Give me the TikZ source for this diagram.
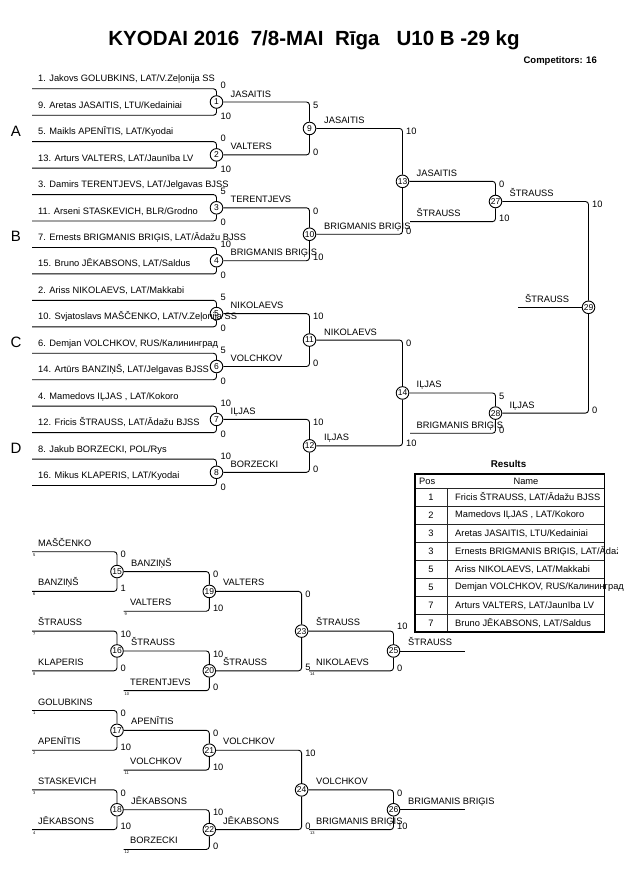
\documentclass[tikz,border=0pt]{standalone}
\usepackage{fontspec}
\setmainfont{Liberation Sans}
\newcommand\smallfs{\fontsize{9.3}{11}\selectfont}
\tikzset{
  ln/.style={line width=0.9pt, rounded corners=3pt},
  circ/.style={circle, draw, fill=white, line width=0.9pt, minimum size=12.6pt, inner sep=0pt, font=\fontsize{8.5}{9}\selectfont},
  lbl/.style={anchor=base west, inner sep=0pt, font=\smallfs},
  score/.style={anchor=west, inner sep=0pt, font=\smallfs},
  tinyn/.style={anchor=north west, inner sep=0pt, font=\fontsize{4}{4}\selectfont},
  pool/.style={anchor=center, inner sep=0pt, font=\fontsize{15}{16}\selectfont},
  cell/.style={inner sep=0pt, font=\smallfs},
  grid/.style={line width=0.9pt, draw=black!85},
}
% first round of the main bracket: id, cy, top text, bottom text, top score, bottom score, winner
\newcommand\FirstMatch[7]{%
  \node[circ] (m#1) at (216.5,#2) {#1};
  \coordinate (s#1t) at (32,#2-13.225);
  \coordinate (s#1b) at (32,#2+13.225);
  \draw[ln] (s#1t) -| (m#1.north);
  \draw[ln] (s#1b) -| (m#1.south);
  \node[lbl] (l#1t) at (38,#2-13.225-7) {#3};
  \node[lbl] (l#1b) at (38,#2+13.225-7) {#4};
  \node[score] (sc#1t) at (220.5,#2-13.225-3) {#5};
  \node[score] (sc#1b) at (220.5,#2+13.225+1.5) {#6};
  \node[lbl] (w#1) at (230.5,#2-5) {#7};
}
% later match: id, cx, cy, top source, bottom source, top score, bottom score, top y, bottom y
\newcommand\Match[9]{%
  \node[circ] (m#1) at (#2,#3) {#1};
  \draw[ln] (#4) -| (m#1.north);
  \draw[ln] (#5) -| (m#1.south);
  \node[score] (sc#1t) at (#2+3.5,#8+3) {#6};
  \node[score] (sc#1b) at (#2+3.5,#9-3) {#7};
}
% first round of the repechage: id, cy, top text, bottom text, top tiny, bottom tiny, top score, bottom score, winner
\newcommand\RepFirst[9]{%
  \node[circ] (m#1) at (117,#2) {#1};
  \coordinate (s#1t) at (32,#2-19.85);
  \coordinate (s#1b) at (32,#2+19.85);
  \draw[ln] (s#1t) -| (m#1.north);
  \draw[ln] (s#1b) -| (m#1.south);
  \node[lbl] (l#1t) at (38,#2-19.85-5.5) {#3};
  \node[lbl] (l#1b) at (38,#2+19.85-5.5) {#4};
  \node[tinyn] (t#1t) at (33,#2-19.85+1.5) {#5};
  \node[tinyn] (t#1b) at (33,#2+19.85+1.5) {#6};
  \node[score] (sc#1t) at (120.5,#2-19.85+3) {#7};
  \node[score] (sc#1b) at (120.5,#2+19.85-3) {#8};
  \node[lbl] (w#1) at (131,#2-5.5) {#9};
}
\begin{document}
\begin{tikzpicture}[x=1pt,y=-1pt]
\useasboundingbox (0,0) rectangle (630,891);
\fill[white] (0,0) rectangle (630,891);

\node[anchor=base, inner sep=0pt, font=\bfseries\fontsize{20.5}{24}\selectfont] (title) at (314,45.3) {KYODAI 2016\ \ 7/8-MAI\ \ Rīga\ \ \ U10 B -29 kg};
\node[anchor=base east, inner sep=0pt, font=\bfseries\fontsize{9.5}{11}\selectfont] (comp) at (597,63.5) {Competitors: 16};

% pool letters
\node[pool] (pA) at (16,131) {A};
\node[pool] (pB) at (16,236.8) {B};
\node[pool] (pC) at (16,342.6) {C};
\node[pool] (pD) at (16,448.4) {D};

% ---------------- main bracket, round 1
\FirstMatch{1}{102}{1. Jakovs GOLUBKINS, LAT/V.Zeļonija SS}{9. Aretas JASAITIS, LTU/Kedainiai}{0}{10}{JASAITIS}
\FirstMatch{2}{154.9}{5. Maikls APENĪTIS, LAT/Kyodai}{13. Arturs VALTERS, LAT/Jaunība LV}{0}{10}{VALTERS}
\FirstMatch{3}{207.8}{3. Damirs TERENTJEVS, LAT/Jelgavas BJSS}{11. Arseni STASKEVICH, BLR/Grodno}{5}{0}{TERENTJEVS}
\FirstMatch{4}{260.7}{7. Ernests BRIGMANIS BRIĢIS, LAT/Ādažu BJSS}{15. Bruno JĒKABSONS, LAT/Saldus}{10}{0}{BRIGMANIS BRIĢIS}
\FirstMatch{5}{313.6}{2. Ariss NIKOLAEVS, LAT/Makkabi}{10. Svjatoslavs MAŠČENKO, LAT/V.Zeļonija SS}{5}{0}{NIKOLAEVS}
\FirstMatch{6}{366.5}{6. Demjan VOLCHKOV, RUS/Калининград}{14. Artūrs BANZIŅŠ, LAT/Jelgavas BJSS}{5}{0}{VOLCHKOV}
\FirstMatch{7}{419.4}{4. Mamedovs IĻJAS , LAT/Kokoro}{12. Fricis ŠTRAUSS, LAT/Ādažu BJSS}{10}{0}{IĻJAS}
\FirstMatch{8}{472.3}{8. Jakub BORZECKI, POL/Rys}{16. Mikus KLAPERIS, LAT/Kyodai}{10}{0}{BORZECKI}

% round 2
\Match{9}{309.5}{128.45}{m1.east}{m2.east}{5}{0}{102}{154.9}
\Match{10}{309.5}{234.25}{m3.east}{m4.east}{0}{10}{207.8}{260.7}
\Match{11}{309.5}{340.05}{m5.east}{m6.east}{10}{0}{313.6}{366.5}
\Match{12}{309.5}{445.85}{m7.east}{m8.east}{10}{0}{419.4}{472.3}
\node[lbl] (w9) at (324,123.45) {JASAITIS};
\node[lbl] (w10) at (324,229.25) {BRIGMANIS BRIĢIS};
\node[lbl] (w11) at (324,335.05) {NIKOLAEVS};
\node[lbl] (w12) at (324,440.85) {IĻJAS};

% round 3
\Match{13}{402.5}{181.35}{m9.east}{m10.east}{10}{0}{128.45}{234.25}
\Match{14}{402.5}{392.95}{m11.east}{m12.east}{0}{10}{340.05}{445.85}
\node[lbl] (w13) at (416.5,176.35) {JASAITIS};
\node[lbl] (w14) at (416.5,387.95) {IĻJAS};

% semifinals
\coordinate (f27) at (410,221.65);
\coordinate (f28) at (410,433.25);
\Match{27}{495.5}{201.5}{m13.east}{f27}{0}{10}{181.35}{221.65}
\Match{28}{495.5}{413.1}{m14.east}{f28}{5}{0}{392.95}{433.25}
\node[lbl] (i27) at (416.5,216.65) {ŠTRAUSS};
\node[lbl] (i28) at (416.5,428.25) {BRIGMANIS BRIĢIS};
\node[lbl] (w27) at (509.5,196.5) {ŠTRAUSS};
\node[lbl] (w28) at (509.5,408.1) {IĻJAS};

% final
\Match{29}{588.5}{307.3}{m27.east}{m28.east}{10}{0}{201.5}{413.1}
\coordinate (f29) at (518,307.3);
\draw[ln] (f29) -- (m29.west);
\node[lbl] (i29) at (525,302.3) {ŠTRAUSS};

% ---------------- results table
\node[inner sep=0pt, font=\bfseries\fontsize{9.8}{11}\selectfont] (restitle) at (508.5,463.5) {Results};
\draw[grid] (447,488) -- (447,632);
\foreach \k in {0,...,7} {\draw[grid] (415,488+18*\k) -- (604.5,488+18*\k);}
\draw[line width=1.6pt] (415,474) rectangle (604.5,632);
\node[cell, anchor=west] (hpos) at (419,481.5) {Pos};
\node[cell] (hname) at (526,481.5) {Name};
\node[cell] (q1) at (431,497.5) {1};
\node[cell] (q2) at (431,515.5) {2};
\node[cell] (q3) at (431,533.5) {3};
\node[cell] (q4) at (431,551.5) {3};
\node[cell] (q5) at (431,569.5) {5};
\node[cell] (q6) at (431,587.5) {5};
\node[cell] (q7) at (431,605.5) {7};
\node[cell] (q8) at (431,623.5) {7};
\node[cell, anchor=west] (r1) at (455,497.5) {Fricis ŠTRAUSS, LAT/Ādažu BJSS};
\node[cell, anchor=west] (r2) at (455,515.5) {Mamedovs IĻJAS , LAT/Kokoro};
\node[cell, anchor=west] (r3) at (455,533.5) {Aretas JASAITIS, LTU/Kedainiai};
\begin{scope}
\clip (448,543) rectangle (617,560);
\node[cell, anchor=west] (r4) at (455,551.5) {Ernests BRIGMANIS BRIĢIS, LAT/Ādažu BJSS};
\end{scope}
\node[cell, anchor=west] (r5) at (455,569.5) {Ariss NIKOLAEVS, LAT/Makkabi};
\node[cell, anchor=west] (r6) at (455,587.5) {Demjan VOLCHKOV, RUS/Калининград};
\node[cell, anchor=west] (r7) at (455,605.5) {Arturs VALTERS, LAT/Jaunība LV};
\node[cell, anchor=west] (r8) at (455,623.5) {Bruno JĒKABSONS, LAT/Saldus};

% ---------------- repechage
% rows r_k = 551.7 + 19.85 k
\RepFirst{15}{571.55}{MAŠČENKO}{BANZIŅŠ}{5}{6}{0}{1}{BANZIŅŠ}
\RepFirst{16}{650.95}{ŠTRAUSS}{KLAPERIS}{7}{8}{10}{0}{ŠTRAUSS}
\RepFirst{17}{730.35}{GOLUBKINS}{APENĪTIS}{1}{2}{0}{10}{APENĪTIS}
\RepFirst{18}{809.75}{STASKEVICH}{JĒKABSONS}{3}{4}{0}{10}{JĒKABSONS}

\coordinate (f19) at (123.5,611.25);
\coordinate (f20) at (123.5,690.65);
\coordinate (f21) at (123.5,770.05);
\coordinate (f22) at (123.5,849.45);
\Match{19}{209.3}{591.4}{m15.east}{f19}{0}{10}{571.55}{611.25}
\Match{20}{209.3}{670.8}{m16.east}{f20}{10}{0}{650.95}{690.65}
\Match{21}{209.3}{750.2}{m17.east}{f21}{0}{10}{730.35}{770.05}
\Match{22}{209.3}{829.6}{m18.east}{f22}{10}{0}{809.75}{849.45}
\node[lbl] (i19) at (130,605.75) {VALTERS};
\node[lbl] (i20) at (130,685.15) {TERENTJEVS};
\node[lbl] (i21) at (130,764.55) {VOLCHKOV};
\node[lbl] (i22) at (130,843.95) {BORZECKI};
\node[tinyn] (t19) at (124.5,612.75) {9};
\node[tinyn] (t20) at (124.5,692.15) {10};
\node[tinyn] (t21) at (124.5,771.55) {11};
\node[tinyn] (t22) at (124.5,850.95) {12};
\node[lbl] (w19) at (223,585.9) {VALTERS};
\node[lbl] (w20) at (223,665.3) {ŠTRAUSS};
\node[lbl] (w21) at (223,744.7) {VOLCHKOV};
\node[lbl] (w22) at (223,824.1) {JĒKABSONS};

\Match{23}{301.6}{631.1}{m19.east}{m20.east}{0}{5}{591.4}{670.8}
\Match{24}{301.6}{789.9}{m21.east}{m22.east}{10}{0}{750.2}{829.6}
\node[lbl] (w23) at (316,625.6) {ŠTRAUSS};
\node[lbl] (w24) at (316,784.4) {VOLCHKOV};

\coordinate (f25) at (309,670.8);
\coordinate (f26) at (309,829.6);
\node[circ] (m25) at (393.5,650.95) {25};
\draw[ln] (m23.east) -| (m25.north);
\draw[ln] (f25) -| (m25.south);
\node[score] (sc25t) at (397,626.1) {10};
\node[score] (sc25b) at (397,667.8) {0};
\Match{26}{393.5}{809.75}{m24.east}{f26}{0}{10}{789.9}{829.6}
\node[lbl] (i25) at (316,665.3) {NIKOLAEVS};
\node[lbl] (i26) at (316,824.1) {BRIGMANIS BRIĢIS};
\node[tinyn] (t25) at (310,672.3) {14};
\node[tinyn] (t26) at (310,831.1) {13};

\coordinate (e25) at (465,650.95);
\coordinate (e26) at (465,809.75);
\draw[ln] (m25.east) -- (e25);
\draw[ln] (m26.east) -- (e26);
\node[lbl] (w25) at (408,645.45) {ŠTRAUSS};
\node[lbl] (w26) at (408,804.25) {BRIGMANIS BRIĢIS};
\end{tikzpicture}
\end{document}
